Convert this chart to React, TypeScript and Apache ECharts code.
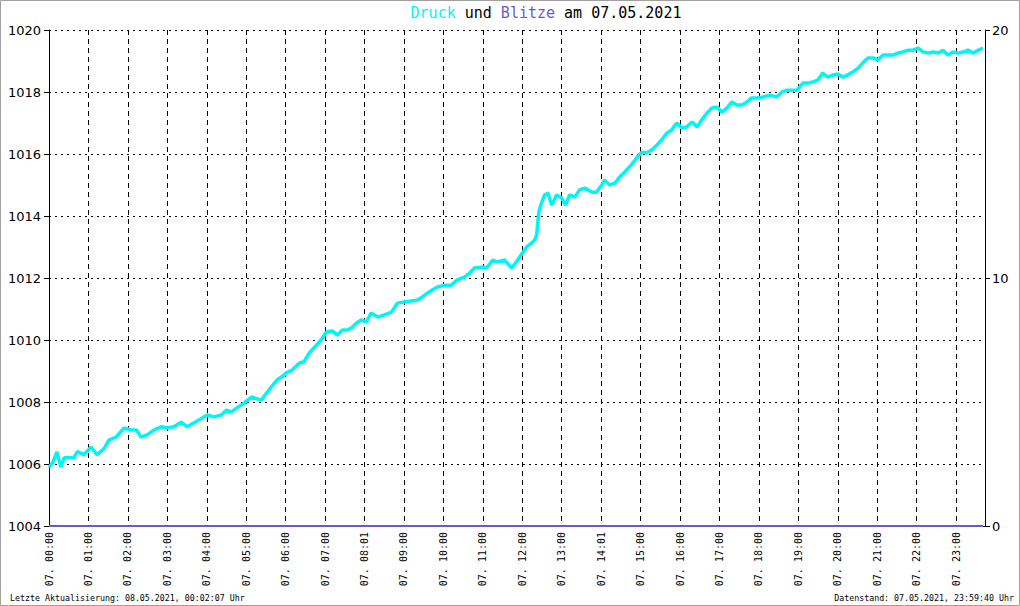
import React, { useEffect, useRef } from "react";
import * as echarts from "echarts";

// time of each sample, minutes after 07.05.2021 00:00 (axis scale)
const druckTimes = [
  0, 6, 12, 18, 23, 30, 38, 43, 53, 64, 73, 84, 91, 102, 114, 125, 133, 140, 149, 160,
  171, 180, 190, 201, 210, 218, 228, 241, 251, 262, 270, 277, 286, 297, 308, 323, 331, 338, 347, 358,
  361, 370, 373, 381, 388, 396, 404, 414, 422, 431, 439, 446, 454, 460, 468, 475, 483, 490, 500, 510,
  521, 530, 541, 551, 561, 568, 576, 583, 591, 602, 612, 621, 632, 640, 647, 658, 667, 675, 682, 693,
  704, 713, 720, 728, 736, 739, 742, 745, 748, 754, 759, 765, 772, 780, 786, 792, 800, 807, 815, 826,
  833, 841, 845, 853, 861, 868, 876, 886, 894, 902, 909, 917, 925, 932, 940, 947, 955, 963, 970, 978,
  986, 993, 1001, 1008, 1016, 1024, 1031, 1039, 1046, 1054, 1062, 1069, 1078, 1086, 1097, 1107, 1115, 1123, 1130, 1138,
  1147, 1155, 1162, 1170, 1177, 1185, 1193, 1200, 1208, 1215, 1223, 1231, 1238, 1246, 1254, 1261, 1269, 1276, 1284, 1292,
  1299, 1307, 1315, 1322, 1330, 1338, 1345, 1353, 1360, 1368, 1375, 1383, 1391, 1398, 1406, 1414, 1421,
];

// air pressure in hPa
const druckValues = [
  1005.9, 1006.05, 1006.39, 1005.9, 1006.2, 1006.2, 1006.2, 1006.4, 1006.3, 1006.55, 1006.3, 1006.5, 1006.77, 1006.87, 1007.16, 1007.1, 1007.1, 1006.87, 1006.94, 1007.1,
  1007.2, 1007.16, 1007.2, 1007.35, 1007.2, 1007.3, 1007.42, 1007.58, 1007.52, 1007.58, 1007.74, 1007.68, 1007.81, 1007.97, 1008.16, 1008.06, 1008.29, 1008.48, 1008.71, 1008.87,
  1008.94, 1009.03, 1009.1, 1009.26, 1009.3, 1009.58, 1009.77, 1010.0, 1010.26, 1010.29, 1010.16, 1010.32, 1010.32, 1010.39, 1010.55, 1010.65, 1010.58, 1010.87, 1010.74, 1010.81,
  1010.9, 1011.19, 1011.23, 1011.26, 1011.29, 1011.39, 1011.52, 1011.61, 1011.71, 1011.77, 1011.77, 1011.94, 1012.03, 1012.16, 1012.32, 1012.35, 1012.35, 1012.58, 1012.52, 1012.58,
  1012.32, 1012.58, 1012.8, 1013.03, 1013.16, 1013.23, 1013.4, 1014.1, 1014.35, 1014.68, 1014.74, 1014.35, 1014.68, 1014.58, 1014.35, 1014.68, 1014.61, 1014.84, 1014.9, 1014.77,
  1014.77, 1015.0, 1015.16, 1015.0, 1015.06, 1015.26, 1015.42, 1015.65, 1015.87, 1016.06, 1016.03, 1016.13, 1016.29, 1016.45, 1016.68, 1016.77, 1017.0, 1016.84, 1016.87, 1017.03,
  1016.87, 1017.1, 1017.32, 1017.48, 1017.52, 1017.35, 1017.48, 1017.68, 1017.58, 1017.58, 1017.68, 1017.81, 1017.81, 1017.84, 1017.9, 1017.84, 1018.0, 1018.06, 1018.06, 1018.06,
  1018.29, 1018.29, 1018.32, 1018.39, 1018.61, 1018.48, 1018.55, 1018.58, 1018.48, 1018.55, 1018.65, 1018.77, 1018.94, 1019.1, 1019.1, 1019.03, 1019.19, 1019.19, 1019.19, 1019.26,
  1019.29, 1019.35, 1019.35, 1019.42, 1019.29, 1019.26, 1019.29, 1019.26, 1019.35, 1019.19, 1019.29, 1019.26, 1019.29, 1019.35, 1019.26, 1019.35, 1019.42,
];

// lightning count (none on this day)
const blitzeTimes = [0, 1421];
const blitzeValues = [0, 0];

// x tick labels, one per hour
const xTickLabels = [
  "07. 00:00", "07. 01:00", "07. 02:00", "07. 03:00", "07. 04:00", "07. 05:00",
  "07. 06:00", "07. 07:00", "07. 08:01", "07. 09:00", "07. 10:00", "07. 11:00",
  "07. 12:00", "07. 13:00", "07. 14:01", "07. 15:00", "07. 16:00", "07. 17:00",
  "07. 18:00", "07. 19:00", "07. 20:00", "07. 21:00", "07. 22:00", "07. 23:00",
];

const CYAN = "#00f5f5";
const BLUE = "#6a5acd";
const MONO = "'DejaVu Sans Mono', monospace";

export default function App() {
  const ref = useRef<HTMLDivElement>(null);

  useEffect(() => {
    document.body.style.margin = "0";
    const chart = echarts.init(ref.current!, null, { renderer: "svg" });
    chart.setOption({
      animation: false,
      backgroundColor: "#ffffff",
      grid: { left: 49, right: 35, top: 30, bottom: 80, containLabel: false },
      xAxis: {
        type: "value",
        min: 0,
        max: 1424,
        interval: 60,
        axisLine: { show: true, lineStyle: { color: "#000", width: 1 } },
        axisTick: { show: false },
        axisLabel: {
          rotate: 90,
          margin: 6,
          fontFamily: MONO,
          fontSize: 10,
          color: "#000",
          showMaxLabel: false,
          formatter: (v: number) => {
            const i = v / 60;
            return Number.isInteger(i) && xTickLabels[i] ? xTickLabels[i] : "";
          },
        },
        splitLine: { show: true, lineStyle: { color: "#000", width: 1, type: [5, 4] } },
      },
      yAxis: [
        {
          type: "value",
          position: "left",
          min: 1004,
          max: 1020,
          interval: 2,
          axisLine: { show: true, lineStyle: { color: "#000", width: 1 } },
          axisTick: { show: true, length: 5, lineStyle: { color: "#000" } },
          axisLabel: {
            fontFamily: "'DejaVu Sans', sans-serif",
            fontSize: 13,
            color: "#000",
            margin: 8,
            formatter: (v: number) => String(v),
          },
          splitLine: { show: true, lineStyle: { color: "#000", width: 1, type: [2, 4] } },
        },
        {
          type: "value",
          position: "right",
          min: 0,
          max: 20,
          interval: 10,
          axisLine: { show: true, lineStyle: { color: "#000", width: 1 } },
          axisTick: { show: true, length: 5, lineStyle: { color: "#000" } },
          axisLabel: {
            fontFamily: "'DejaVu Sans', sans-serif",
            fontSize: 13,
            color: "#000",
            margin: 7,
            formatter: (v: number) => String(v),
          },
          splitLine: { show: false },
        },
      ],
      series: [
        {
          name: "Blitze",
          type: "line",
          yAxisIndex: 1,
          data: blitzeTimes.map((t, i) => [t, blitzeValues[i]]),
          symbol: "none",
          lineStyle: { color: BLUE, width: 2 },
          z: 3,
        },
        {
          name: "Druck",
          type: "line",
          yAxisIndex: 0,
          data: druckTimes.map((t, i) => [t, druckValues[i]]),
          symbol: "none",
          lineStyle: { color: CYAN, width: 3.5 },
          z: 4,
        },
      ],
      graphic: [
        {
          type: "rect",
          shape: { x: 0.5, y: 0.5, width: 1019, height: 605 },
          style: { fill: "none", stroke: "#a0a0a0", lineWidth: 1 },
          silent: true,
        },
        {
          type: "text",
          x: 546,
          y: 13,
          style: {
            text: "{a|Druck} {b|und} {c|Blitze} {b|am 07.05.2021}",
            align: "center",
            verticalAlign: "middle",
            rich: {
              a: { fill: CYAN, fontFamily: MONO, fontSize: 15 },
              b: { fill: "#000", fontFamily: MONO, fontSize: 15 },
              c: { fill: BLUE, fontFamily: MONO, fontSize: 15 },
            },
            fontFamily: MONO,
            fontSize: 15,
          },
        },
        {
          type: "text",
          x: 10,
          y: 598,
          style: {
            text: "Letzte Aktualisierung: 08.05.2021, 00:02:07 Uhr",
            fontFamily: MONO,
            fontSize: 8.3,
            fill: "#000",
            align: "left",
            verticalAlign: "middle",
          },
        },
        {
          type: "text",
          x: 1014,
          y: 598,
          style: {
            text: "Datenstand: 07.05.2021, 23:59:40 Uhr",
            fontFamily: MONO,
            fontSize: 8.3,
            fill: "#000",
            align: "right",
            verticalAlign: "middle",
          },
        },
      ],
    });
    return () => chart.dispose();
  }, []);

  return <div ref={ref} style={{ width: 1020, height: 606 }} />;
}
